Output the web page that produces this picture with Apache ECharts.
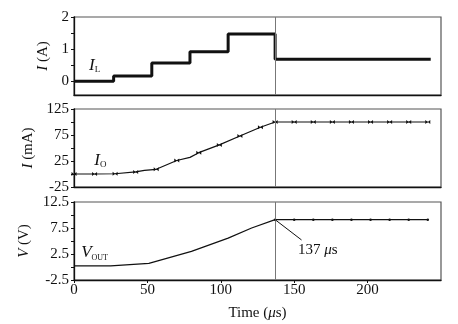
<!DOCTYPE html>
<html><head><meta charset="utf-8">
<script src="https://cdn.jsdelivr.net/npm/echarts@6/dist/echarts.min.js"></script>
<style>html,body{margin:0;padding:0;background:#fff}#c{width:458px;height:324px}</style>
</head><body><div id="c"></div>
<script>
// Inductor current I_L (A): value holds from each time until the next one
const ilTime = [0, 27, 53, 79, 105, 137, 243];
const ilValue = [0, 0.16, 0.57, 0.92, 1.47, 0.68, 0.68];

// Output current I_O (mA)
const ioTime = [0, 14, 28, 42, 48, 56, 70, 79, 85, 99, 113, 127, 137, 150, 163, 176, 189, 202, 215, 228, 241];
const ioValue = [0, 0, 0.5, 4, 7, 9, 26, 32, 41, 56, 73, 90, 100, 100, 100, 100, 100, 100, 100, 100, 100];
const ioMarkerTime = [0, 14, 28, 42, 56, 70, 85, 99, 113, 127, 137, 150, 163, 176, 189, 202, 215, 228, 241];

// Output voltage V_OUT (V)
const vTime = [0, 14, 25, 51, 80, 105, 121, 137, 150, 163, 176, 189, 202, 215, 228, 241];
const vValue = [0.2, 0.2, 0.2, 0.7, 3.0, 5.55, 7.5, 9.1, 9.1, 9.1, 9.1, 9.1, 9.1, 9.1, 9.1, 9.1];
const vMarkerTime = [137, 150, 163, 176, 189, 202, 215, 228, 241];

// Settling instant and its annotation
const switchTime = 137;
const switchText = '137 {it|μ}s';

// Tick labels
const xTickLabels = [0, 50, 100, 150, 200];
const ilTicks = [0, 0.5, 1, 1.5, 2];
const ilTickLabels = [0, 1, 2];
const ioTickLabels = [-25, 25, 75, 125];
const vTickLabels = [-2.5, 2.5, 7.5, 12.5];

const FONT = '"Liberation Serif", "Times New Roman", serif';
const INK = '#111';

function pairs(t, v, marked, symbol, size) {
  return t.map((x, i) => {
    const item = { value: [x, v[i]] };
    if (marked && marked.indexOf(x) >= 0) {
      item.symbol = symbol; item.symbolSize = size;
    } else {
      item.symbol = 'none';
    }
    return item;
  });
}

function xAxis(gridIndex, showLabels) {
  return {
    type: 'value', gridIndex, min: 0, max: 250, interval: 50,
    axisLine: { show: true, onZero: false, lineStyle: { color: INK, width: 1.3 } },
    axisTick: { show: showLabels, length: 3, customValues: xTickLabels, lineStyle: { color: INK } },
    axisLabel: { show: showLabels, customValues: xTickLabels, margin: 3,
      fontFamily: FONT, fontSize: 15, color: INK },
    splitLine: { show: false },
    name: showLabels ? 'Time ({it|μ}s)' : '',
    nameLocation: 'middle', nameGap: 26,
    nameTextStyle: { fontFamily: FONT, fontSize: 15, color: INK,
      rich: { it: { fontFamily: FONT, fontSize: 15, fontStyle: 'italic', color: INK } } }
  };
}

function yAxis(gridIndex, min, max, ticks, labels, name, gap) {
  return {
    type: 'value', gridIndex, min, max,
    axisLine: { show: true, onZero: false, lineStyle: { color: INK, width: 1.3 } },
    axisTick: { show: true, length: 3, customValues: ticks, lineStyle: { color: INK } },
    axisLabel: { customValues: labels, margin: 5, fontFamily: FONT, fontSize: 15, color: INK },
    splitLine: { show: false },
    name, nameLocation: 'middle', nameRotate: 90, nameGap: gap,
    nameTextStyle: { fontFamily: FONT, fontSize: 15, color: INK,
      rich: { it: { fontFamily: FONT, fontSize: 15, fontStyle: 'italic', color: INK } } }
  };
}

function tagLabel(main, sub, subSize) {
  return {
    show: true, position: 'inside', color: INK,
    formatter: '{m|' + main + '}{s|' + sub + '}',
    rich: {
      m: { fontFamily: FONT, fontSize: 17, fontStyle: 'italic', color: INK, lineHeight: 18 },
      s: { fontFamily: FONT, fontSize: subSize, color: INK, lineHeight: 8, verticalAlign: 'bottom' }
    }
  };
}

const switchLine = { xAxis: switchTime, lineStyle: { color: '#777', width: 1, type: 'solid' } };

const bowtie = 'path://M0,0L10,10L10,0L0,10Z';

const option = {
  backgroundColor: '#fff',
  animation: false,
  grid: [
    { left: 74, right: 17, top: 17, height: 78, show: true, borderColor: '#555', borderWidth: 1.2 },
    { left: 74, right: 17, top: 109, height: 78, show: true, borderColor: '#555', borderWidth: 1.2 },
    { left: 74, right: 17, top: 202, height: 78, show: true, borderColor: '#555', borderWidth: 1.2 }
  ],
  xAxis: [xAxis(0, false), xAxis(1, false), xAxis(2, true)],
  yAxis: [
    yAxis(0, -0.43, 2, ilTicks, ilTickLabels, '{it|I} (A)', 17),
    yAxis(1, -25, 125, [-25, 0, 25, 50, 75, 100, 125], ioTickLabels, '{it|I} (mA)', 36),
    yAxis(2, -2.5, 12.5, [-2.5, 0, 2.5, 5, 7.5, 10, 12.5], vTickLabels, '{it|V} (V)', 34)
  ],
  series: [
    {
      type: 'line', xAxisIndex: 0, yAxisIndex: 0, step: 'end',
      data: ilTime.map((t, i) => [t, ilValue[i]]),
      showSymbol: false, lineStyle: { color: INK, width: 3 },
      markLine: { silent: true, symbol: 'none', label: { show: false }, data: [switchLine] },
      markPoint: { symbol: 'circle', symbolSize: 0, label: tagLabel('I', 'L', 9),
        data: [{ coord: [14, 0.5] }] }
    },
    {
      type: 'line', xAxisIndex: 1, yAxisIndex: 1,
      data: pairs(ioTime, ioValue, ioMarkerTime, bowtie, [5, 4]),
      showAllSymbol: true,
      itemStyle: { color: INK }, lineStyle: { color: INK, width: 1.2 },
      markLine: { silent: true, symbol: 'none', label: { show: false }, data: [switchLine] },
      markPoint: { symbol: 'circle', symbolSize: 0, label: tagLabel('I', 'O', 9),
        data: [{ coord: [18, 26] }] }
    },
    {
      type: 'line', xAxisIndex: 2, yAxisIndex: 2,
      data: pairs(vTime, vValue, vMarkerTime, 'circle', 2.5),
      showAllSymbol: true,
      itemStyle: { color: INK }, lineStyle: { color: INK, width: 1.2 },
      markLine: { silent: true, symbol: 'none', label: { show: false },
        data: [
          switchLine,
          [{ coord: [switchTime, 9.1], lineStyle: { color: INK, width: 1, type: 'solid' } },
           { coord: [155, 5.2] }]
        ] },
      markPoint: { symbol: 'circle', symbolSize: 0,
        data: [
          { coord: [14, 2.7], label: tagLabel('V', 'OUT', 8) },
          { coord: [166, 3.3], label: { show: true, position: 'inside', formatter: switchText,
              fontFamily: FONT, fontSize: 15, color: INK,
              rich: { it: { fontFamily: FONT, fontSize: 15, fontStyle: 'italic', color: INK } } } }
        ] }
    }
  ]
};

const chart = echarts.init(document.getElementById('c'), null, { renderer: 'canvas' });
chart.setOption(option);
</script>
</body></html>
